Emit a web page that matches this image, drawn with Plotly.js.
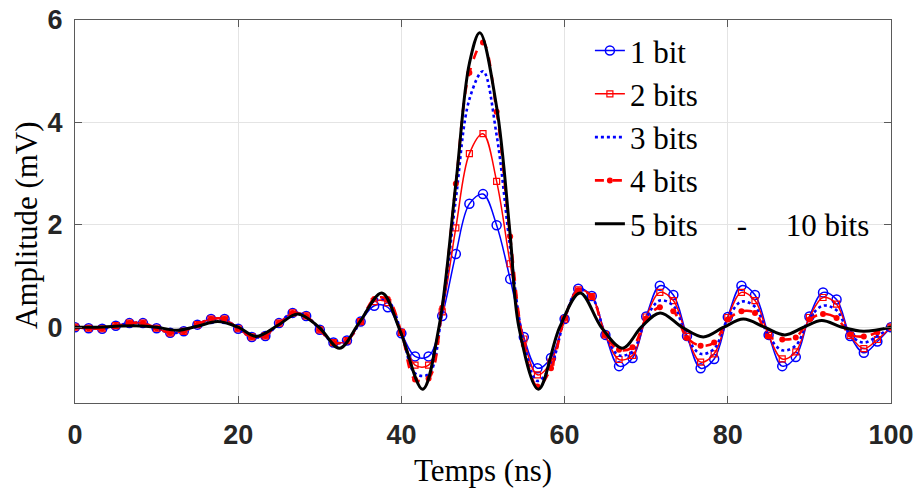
<!DOCTYPE html>
<html>
<head>
<meta charset="utf-8">
<script src="https://cdn.plot.ly/plotly-3.0.1.min.js"></script>
<style>html,body{margin:0;padding:0;background:#fff;}#chart{width:919px;height:489px;}</style>
</head>
<body>
<div id="chart"></div>
<script>
// Sample instants (ns)
const tSamples = [0,1.67,3.33,5,6.67,8.33,10,11.67,13.33,15,16.67,18.33,20,21.67,23.33,25,26.67,28.33,30,31.67,33.33,35,36.67,38.33,40,41.67,43.33,45,46.67,48.33,50,51.67,53.33,55,56.67,58.33,60,61.67,63.33,65,66.67,68.33,70,71.67,73.33,75,76.67,78.33,80,81.67,83.33,85,86.67,88.33,90,91.67,93.33,95,96.67,98.33,100];

// Amplitude (mV) per quantisation
const bit1 = [0,-0.02,-0.03,0.03,0.08,0.08,-0.02,-0.11,-0.08,0.05,0.16,0.16,
  -0.03,-0.19,-0.17,0.08,0.28,0.22,-0.05,-0.30,-0.26,0.11,0.42,0.39,
  -0.12,-0.57,-0.57,0.22,1.43,2.41,2.60,1.99,0.94,-0.19,-0.80,-0.60,
  0.16,0.75,0.61,-0.15,-0.76,-0.60,0.21,0.81,0.63,-0.17,-0.80,-0.62,
  0.20,0.81,0.63,-0.15,-0.76,-0.58,0.21,0.68,0.54,-0.17,-0.50,-0.28,0];
const bit2 = [0,-0.02,-0.03,0.03,0.08,0.08,-0.02,-0.11,-0.08,0.05,0.16,0.16,
  -0.03,-0.19,-0.17,0.08,0.28,0.22,-0.05,-0.30,-0.26,0.11,0.50,0.48,
  -0.10,-0.74,-0.74,0.30,1.94,3.39,3.78,2.85,1.24,-0.23,-0.93,-0.68,
  0.16,0.73,0.60,-0.15,-0.63,-0.55,0.20,0.68,0.52,-0.18,-0.68,-0.52,
  0.19,0.68,0.52,-0.16,-0.62,-0.48,0.19,0.58,0.45,-0.16,-0.42,-0.24,0];
const bit3 = [0,-0.02,-0.03,0.03,0.08,0.08,-0.02,-0.11,-0.08,0.05,0.16,0.16,
  -0.03,-0.19,-0.17,0.08,0.28,0.22,-0.05,-0.30,-0.26,0.11,0.52,0.52,
  -0.10,-0.90,-0.92,0.33,2.50,4.45,5.00,3.75,1.55,-0.30,-1.05,-0.75,
  0.16,0.74,0.60,-0.15,-0.55,-0.47,0.18,0.52,0.42,-0.20,-0.52,-0.42,
  0.17,0.50,0.40,-0.17,-0.45,-0.36,0.17,0.42,0.33,-0.15,-0.30,-0.17,0];
const bit4 = [0,-0.02,-0.03,0.03,0.08,0.08,-0.02,-0.11,-0.08,0.05,0.16,0.16,
  -0.03,-0.19,-0.17,0.08,0.28,0.22,-0.05,-0.30,-0.26,0.11,0.55,0.55,
  -0.10,-1.02,-1.00,0.38,2.80,4.97,5.56,4.21,1.77,-0.34,-1.16,-0.80,
  0.17,0.72,0.60,-0.15,-0.44,-0.39,0.17,0.39,0.31,-0.21,-0.36,-0.30,
  0.15,0.31,0.28,-0.18,-0.24,-0.20,0.15,0.26,0.18,-0.14,-0.18,-0.10,0];

// Reference (5 bits - 10 bits) curve, read at its turning points and crossings
const tRef = [0,2.5,5,7.5,10,12.5,15,17.5,20,22.2,24.8,27.3,29.9,32.4,34.8,37.6,39.8,42.6,44.6,46.67,48.33,49.6,51.67,53.33,54.4,56.8,59.4,61.9,64.5,67.1,69.4,71.7,74.4,77,79.5,81.9,84.5,87,89.3,91.5,94,96.6,100];
const ref = [0,0,0.02,0.03,0,-0.06,0.02,0.11,0,-0.18,0.03,0.26,0,-0.41,0.08,0.67,-0.05,-1.21,0,2.8,5.15,5.75,4.3,1.8,0,-1.21,0,0.67,0,-0.41,0,0.28,0,-0.19,0,0.16,0,-0.15,0,0.13,0,-0.08,0];

const NB = '\u00a0';
const names = ['1 bit','2 bits','3 bits','4 bits','5 bits' + NB.repeat(5) + '-' + NB.repeat(5) + '10 bits'];

const traces = [
  {x:tSamples, y:bit1, name:names[0], legendgroup:'a', mode:'lines+markers',
   line:{color:'#0000ff', width:1.5, shape:'spline', smoothing:1},
   marker:{symbol:'circle-open', size:9, color:'#0000ff', line:{width:1.5, color:'#0000ff'}}},
  {x:tSamples, y:bit2, name:names[1], legendgroup:'b', mode:'lines+markers',
   line:{color:'#ff0000', width:1.5, shape:'spline', smoothing:1},
   marker:{symbol:'square-open', size:6, color:'#ff0000', line:{width:1.2, color:'#ff0000'}}},
  {x:tSamples, y:bit3, name:names[2], legendgroup:'c', mode:'lines',
   line:{color:'#0000ff', width:2.6, dash:'dot', shape:'spline', smoothing:1}},
  {x:tSamples, y:bit4, name:names[3], legendgroup:'d', mode:'lines+markers',
   line:{color:'#ff0000', width:2.6, dash:'dash', shape:'spline', smoothing:1},
   marker:{symbol:'circle', size:6, color:'#ff0000'}},
  {x:tRef, y:ref, name:names[4], legendgroup:'e', mode:'lines',
   line:{color:'#000000', width:3, shape:'spline', smoothing:1}}
];

const axisCommon = {
  showgrid:true, gridcolor:'#e4e4e4', gridwidth:1,
  showline:true, linecolor:'#5a5a5a', linewidth:1, mirror:'ticks',
  ticks:'inside', ticklen:7, tickcolor:'#5a5a5a', tickwidth:1,
  zeroline:false,
  tickfont:{family:'Liberation Sans, Arial, sans-serif', size:27, color:'#262626', weight:'bold'}
};

const titleFont = {family:'Liberation Serif, Times New Roman, serif', size:31, color:'#000'};

const layout = {
  width:919, height:489,
  margin:{l:75, r:28, t:20, b:86, pad:0},
  paper_bgcolor:'#ffffff', plot_bgcolor:'#ffffff',
  showlegend:true,
  legend:{x:0.631, y:0.99, xanchor:'left', yanchor:'top', bgcolor:'rgba(0,0,0,0)', borderwidth:0,
    tracegroupgap:0, itemwidth:30,
    font:{family:'Liberation Serif, Times New Roman, serif', size:31, color:'#000'}},
  xaxis:Object.assign({}, axisCommon, {range:[0,100], tickvals:[0,20,40,60,80,100], ticklabelstandoff:8,
    title:{text:'Temps (ns)', font:titleFont, standoff:9}}),
  yaxis:Object.assign({}, axisCommon, {range:[-1.48,6], tickvals:[0,2,4,6], ticklabelstandoff:6}),
  annotations:[{text:'Amplitude (mV)', textangle:-90, showarrow:false,
    xref:'paper', yref:'paper', x:-0.0588, y:0.465, xanchor:'center', yanchor:'middle',
    font:titleFont}]
};

Plotly.newPlot('chart', traces, layout, {displayModeBar:false, staticPlot:true});
</script>
</body>
</html>
